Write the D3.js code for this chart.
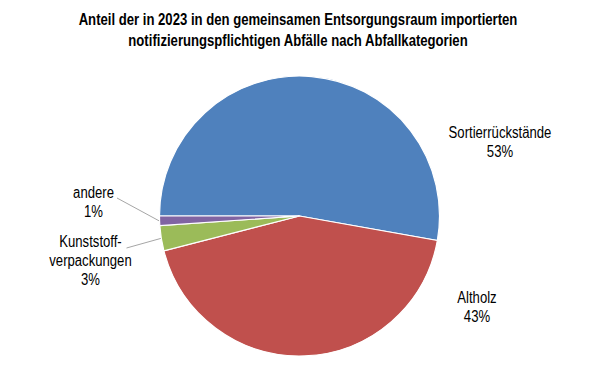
<!DOCTYPE html>
<html>
<head>
<meta charset="utf-8">
<script src="https://cdn.jsdelivr.net/npm/d3@7"></script>
<style>
  html, body { margin: 0; padding: 0; background: #fff; }
  svg text { font-family: "Liberation Sans", Arial, sans-serif; }
</style>
</head>
<body>
<svg id="chart" width="600" height="388"></svg>
<script>
const titleLines = [
  "Anteil der in 2023 in den gemeinsamen Entsorgungsraum importierten",
  "notifizierungspflichtigen Abfälle nach Abfallkategorien"
];
const categories = ["Sortierrückstände", "Altholz", "Kunststoff-verpackungen", "andere"];
const labelLines = [["Sortierrückstände"], ["Altholz"], ["Kunststoff-", "verpackungen"], ["andere"]];
const values = [52.8, 43.2, 2.9, 1.1];
const percentLabels = ["53%", "43%", "3%", "1%"];
const colors = ["#4F81BD", "#C0504D", "#9BBB59", "#8064A2"];

const svg = d3.select("#chart");
const cx = 299.5, cy = 216, r = 140;
const narrow = 0.82;

// condensed text helper
function multiText(parent, x, y, lines, lh, size, bold) {
  const grp = parent.append("g").attr("transform", `translate(${x},${y}) scale(${narrow},1)`);
  const t = grp.append("text")
    .attr("text-anchor", "middle")
    .attr("font-size", size)
    .attr("font-weight", bold ? "bold" : "normal")
    .attr("fill", "#000");
  lines.forEach((ln, k) => {
    t.append("tspan").attr("x", 0).attr("y", k * lh).text(ln);
  });
  return grp;
}

// title
multiText(svg, 298, 25, titleLines, 21, 16, true);

const pie = d3.pie().sort(null).value(d => d)
  .startAngle(-Math.PI / 2).endAngle(1.5 * Math.PI);
const arcs = pie(values);
const arc = d3.arc().innerRadius(0).outerRadius(r);

const g = svg.append("g").attr("transform", `translate(${cx},${cy})`);
g.selectAll("path").data(arcs).join("path")
  .attr("d", arc)
  .attr("fill", (d, i) => colors[i])
  .attr("stroke", "#fff")
  .attr("stroke-width", 1.2);

// label anchor (first baseline, relative to center) and leader lines
const labelPos = [
  {x: 200.5, y: -78.3},
  {x: 177.5, y: 87},
  {x: -209, y: 31},
  {x: -206, y: -18}
];
const leaderStart = [null, null, {x: -173, y: 32}, {x: -182.5, y: -18}];

arcs.forEach((a, i) => {
  if (leaderStart[i]) {
    const mid = (a.startAngle + a.endAngle) / 2;
    const ex = Math.sin(mid) * (r + 0.5), ey = -Math.cos(mid) * (r + 0.5);
    g.append("line")
      .attr("x1", leaderStart[i].x).attr("y1", leaderStart[i].y)
      .attr("x2", ex).attr("y2", ey)
      .attr("stroke", "#a6a6a6").attr("stroke-width", 1);
  }
  const lines = labelLines[i].concat([percentLabels[i]]);
  multiText(g, labelPos[i].x, labelPos[i].y, lines, 19, 16, false);
});
</script>
</body>
</html>
